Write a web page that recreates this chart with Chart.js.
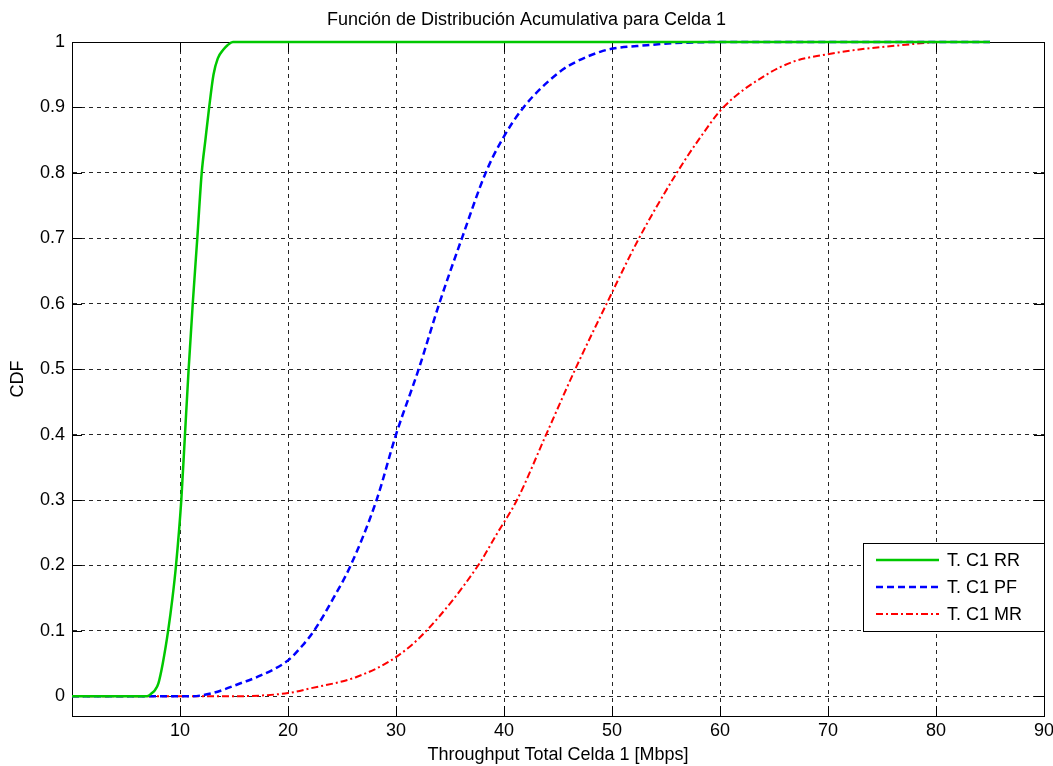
<!DOCTYPE html>
<html>
<head>
<meta charset="utf-8">
<title>CDF Celda 1</title>
<script src="https://cdn.jsdelivr.net/npm/chart.js@4.4.1/dist/chart.umd.min.js"></script>
<style>
  body { margin: 0; background: #fff; }
  #wrap { width: 1053px; height: 766px; }
</style>
</head>
<body>
<div id="wrap"><canvas id="cdfChart"></canvas></div>
<script>
// tick values
var xTicks = [0, 10, 20, 30, 40, 50, 60, 70, 80, 90]
var xTickLabels = ['', '10', '20', '30', '40', '50', '60', '70', '80', '90']
var yTicks = [0, 0.1, 0.2, 0.3, 0.4, 0.5, 0.6, 0.7, 0.8, 0.9, 1]
var yTickLabels = ['0', '0.1', '0.2', '0.3', '0.4', '0.5', '0.6', '0.7', '0.8', '0.9', '1']

// T. C1 RR
var rrX = [0, 6.9, 7.4, 7.7, 8.0, 8.4, 8.9, 9.3, 9.63, 10.12, 10.46, 10.8, 11.18, 11.6, 12.01, 12.35, 12.7, 13.1, 13.5, 14.0, 14.4, 14.9, 17.4, 85]
var rrY = [0, 0, 0.005, 0.01, 0.02, 0.05, 0.1, 0.15, 0.2, 0.3, 0.4, 0.5, 0.6, 0.7, 0.8, 0.85, 0.9, 0.95, 0.975, 0.988, 0.995, 1, 1, 1]

// T. C1 PF
var pfX = [0, 11, 13, 14, 15.6, 17.2, 20.0, 21.3, 22.4, 24.2, 25.8, 28.2, 30.0, 32.1, 34.0, 36.1, 38.3, 39.8, 41.8, 45.2, 46.7, 48.9, 50.1, 53.2, 55.5, 60, 85]
var pfY = [0, 0, 0.005, 0.01, 0.02, 0.03, 0.055, 0.077, 0.1, 0.15, 0.2, 0.3, 0.4, 0.5, 0.6, 0.7, 0.8, 0.85, 0.9, 0.955, 0.97, 0.985, 0.99, 0.995, 0.998, 1, 1]

// T. C1 MR
var mrX = [0, 14, 20, 22, 26.4, 30, 32.8, 37.6, 39.4, 41.2, 43.9, 46.6, 49.5, 52.5, 56.0, 58.0, 60.3, 64.3, 66.8, 69.5, 73.6, 76.7, 80.6, 85]
var mrY = [0, 0, 0.005, 0.012, 0.03, 0.06, 0.1, 0.2, 0.25, 0.3, 0.4, 0.5, 0.6, 0.7, 0.8, 0.85, 0.9, 0.95, 0.97, 0.98, 0.99, 0.995, 1, 1]

var FONT = "'Liberation Sans', Arial, sans-serif"

function toPoints(xs, ys) {
  return xs.map(function (x, i) { return { x: x, y: ys[i] } })
}

//-------------------------
//- frame + inward ticks  -
//-------------------------
var framePlugin = {
  id: 'frame',
  beforeDatasetsDraw: function (chart) {
    var ctx = chart.ctx
    var a = chart.chartArea
    var xs = chart.scales.x
    var ys = chart.scales.y
    var len = 10
    ctx.save()
    ctx.strokeStyle = '#000'
    ctx.lineWidth = 1
    ctx.setLineDash([])
    ctx.beginPath()
    xTicks.forEach(function (v) {
      var px = Math.round(xs.getPixelForValue(v)) + 0.5
      ctx.moveTo(px, a.bottom); ctx.lineTo(px, a.bottom - len)
      ctx.moveTo(px, a.top); ctx.lineTo(px, a.top + len)
    })
    yTicks.forEach(function (v) {
      var py = Math.round(ys.getPixelForValue(v)) + 0.5
      ctx.moveTo(a.left, py); ctx.lineTo(a.left + len, py)
      ctx.moveTo(a.right, py); ctx.lineTo(a.right - len, py)
    })
    ctx.stroke()
    ctx.strokeRect(Math.round(a.left) + 0.5, Math.round(a.top) + 0.5,
      Math.round(a.right - a.left), Math.round(a.bottom - a.top))
    ctx.restore()
  }
}

//-------------
//- legend    -
//-------------
var boxLegendPlugin = {
  id: 'boxLegend',
  afterDatasetsDraw: function (chart) {
    var ctx = chart.ctx
    var a = chart.chartArea
    var w = 181, h = 88
    var bx = a.right - w, by = a.bottom - 173
    ctx.save()
    ctx.fillStyle = '#fff'
    ctx.fillRect(bx, by, w, h)
    ctx.strokeStyle = '#000'
    ctx.lineWidth = 1
    ctx.setLineDash([])
    ctx.strokeRect(Math.round(bx) + 0.5, Math.round(by) + 0.5, w, h)
    ctx.font = '18px ' + FONT
    ctx.textBaseline = 'middle'
    ctx.fillStyle = '#000'
    chart.data.datasets.forEach(function (ds, i) {
      var ry = by + 17 + i * 27
      ctx.strokeStyle = ds.borderColor
      ctx.lineWidth = ds.borderWidth
      ctx.setLineDash(ds.borderDash || [])
      ctx.beginPath()
      ctx.moveTo(bx + 13, ry)
      ctx.lineTo(bx + 76, ry)
      ctx.stroke()
      ctx.fillText(ds.label, bx + 84, ry + 1)
    })
    ctx.restore()
  }
}

var ctx = document.getElementById('cdfChart').getContext('2d')

var cdfChart = new Chart(ctx, {
  type: 'scatter',
  data: {
    datasets: [
      {
        label: 'T. C1 RR',
        data: toPoints(rrX, rrY),
        showLine: true,
        borderColor: '#00c800',
        backgroundColor: '#00c800',
        borderWidth: 2.5,
        borderDash: [],
        pointRadius: 0,
        cubicInterpolationMode: 'monotone',
        clip: 4
      },
      {
        label: 'T. C1 PF',
        data: toPoints(pfX, pfY),
        showLine: true,
        borderColor: '#0000ff',
        backgroundColor: '#0000ff',
        borderWidth: 2.5,
        borderDash: [7, 4],
        pointRadius: 0,
        cubicInterpolationMode: 'monotone',
        clip: 4
      },
      {
        label: 'T. C1 MR',
        data: toPoints(mrX, mrY),
        showLine: true,
        borderColor: '#ff0000',
        backgroundColor: '#ff0000',
        borderWidth: 2,
        borderDash: [7, 3, 2, 3],
        pointRadius: 0,
        cubicInterpolationMode: 'monotone',
        clip: 4
      }
    ]
  },
  options: {
    responsive: true,
    maintainAspectRatio: false,
    animation: false,
    layout: { padding: { left: 0, right: 0, top: 0, bottom: 0 } },
    plugins: {
      legend: { display: false },
      tooltip: { enabled: false },
      title: {
        display: true,
        text: 'Función de Distribución Acumulativa para Celda 1',
        color: '#000',
        font: { family: FONT, size: 18, weight: 'normal', lineHeight: 1.2 },
        padding: { top: 9, bottom: 11.4 }
      }
    },
    scales: {
      x: {
        type: 'linear',
        min: 0,
        max: 90,
        afterBuildTicks: function (scale) {
          scale.ticks = xTicks.map(function (v) { return { value: v } })
        },
        afterFit: function (scale) {
          scale.height = 50
          scale.paddingRight = 9
        },
        ticks: {
          padding: 4,
          color: '#000',
          font: { family: FONT, size: 18 },
          maxRotation: 0,
          callback: function (v) { return xTickLabels[xTicks.indexOf(v)] }
        },
        grid: { color: 'rgba(0,0,0,0.85)', lineWidth: 1, drawTicks: false },
        border: { display: true, color: '#000', dash: [4, 4] },
        title: {
          display: true,
          text: 'Throughput Total Celda 1 [Mbps]',
          color: '#000',
          font: { family: FONT, size: 18 },
          padding: { top: 0, bottom: 0 }
        }
      },
      y: {
        type: 'linear',
        min: -0.03,
        max: 1,
        afterBuildTicks: function (scale) {
          scale.ticks = yTicks.map(function (v) { return { value: v } })
        },
        afterFit: function (scale) { scale.width = 72 },
        ticks: {
          padding: 7,
          color: '#000',
          font: { family: FONT, size: 18 },
          callback: function (v) { return yTickLabels[yTicks.indexOf(v)] }
        },
        grid: { color: 'rgba(0,0,0,0.85)', lineWidth: 1, drawTicks: false },
        border: { display: true, color: '#000', dash: [4, 4] },
        title: {
          display: true,
          text: 'CDF',
          color: '#000',
          font: { family: FONT, size: 18 },
          padding: { top: 7.5, bottom: 0 }
        }
      }
    }
  },
  plugins: [framePlugin, boxLegendPlugin]
})
</script>
</body>
</html>
